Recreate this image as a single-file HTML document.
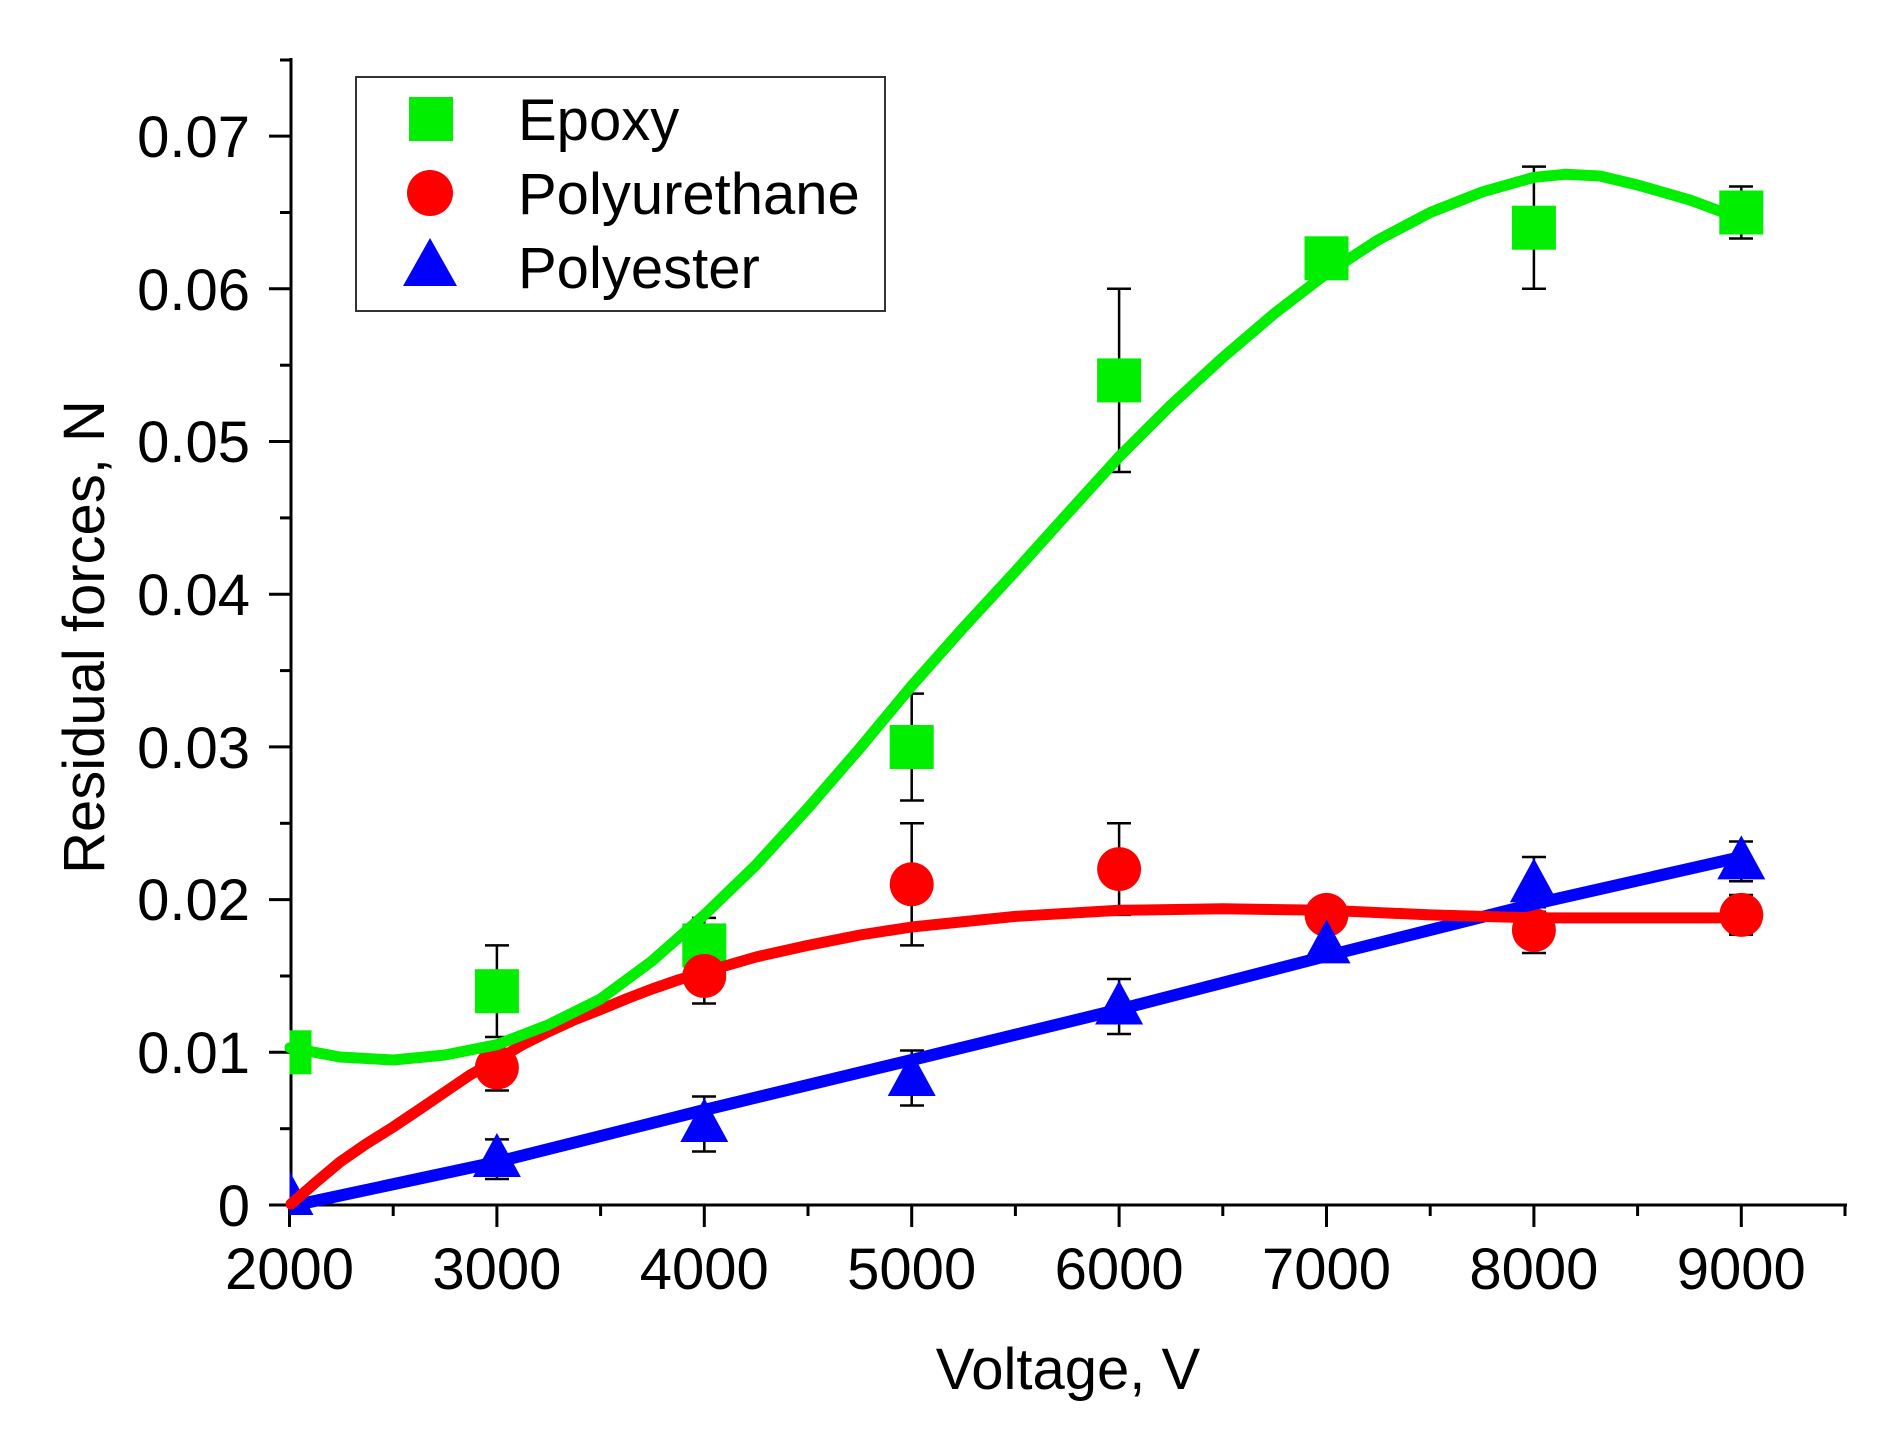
<!DOCTYPE html>
<html><head><meta charset="utf-8"><style>
html,body{margin:0;padding:0;background:#fff;}
svg{display:block;}
text{font-family:"Liberation Sans",Arial,sans-serif;fill:#000;}
</style></head><body>
<svg width="1892" height="1437" viewBox="0 0 1892 1437" xmlns="http://www.w3.org/2000/svg">
<rect width="1892" height="1437" fill="#fff"/>
<g stroke="#000" stroke-width="3" fill="none">
<line x1="291" y1="58" x2="291" y2="1206"/>
<line x1="289" y1="1205" x2="1847" y2="1205"/>
<line x1="269" y1="1205" x2="291" y2="1205"/>
<line x1="269" y1="1052.3" x2="291" y2="1052.3"/>
<line x1="269" y1="899.6" x2="291" y2="899.6"/>
<line x1="269" y1="746.9" x2="291" y2="746.9"/>
<line x1="269" y1="594.2" x2="291" y2="594.2"/>
<line x1="269" y1="441.5" x2="291" y2="441.5"/>
<line x1="269" y1="288.8" x2="291" y2="288.8"/>
<line x1="269" y1="136.1" x2="291" y2="136.1"/>
<line x1="280" y1="1128.7" x2="291" y2="1128.7"/>
<line x1="280" y1="976" x2="291" y2="976"/>
<line x1="280" y1="823.3" x2="291" y2="823.3"/>
<line x1="280" y1="670.6" x2="291" y2="670.6"/>
<line x1="280" y1="517.9" x2="291" y2="517.9"/>
<line x1="280" y1="365.2" x2="291" y2="365.2"/>
<line x1="280" y1="212.5" x2="291" y2="212.5"/>
<line x1="280" y1="60" x2="291" y2="60"/>
<line x1="289.5" y1="1205" x2="289.5" y2="1227"/>
<line x1="496.9" y1="1205" x2="496.9" y2="1227"/>
<line x1="704.3" y1="1205" x2="704.3" y2="1227"/>
<line x1="911.7" y1="1205" x2="911.7" y2="1227"/>
<line x1="1119.1" y1="1205" x2="1119.1" y2="1227"/>
<line x1="1326.5" y1="1205" x2="1326.5" y2="1227"/>
<line x1="1533.9" y1="1205" x2="1533.9" y2="1227"/>
<line x1="1741.3" y1="1205" x2="1741.3" y2="1227"/>
<line x1="393.2" y1="1205" x2="393.2" y2="1216"/>
<line x1="600.6" y1="1205" x2="600.6" y2="1216"/>
<line x1="808" y1="1205" x2="808" y2="1216"/>
<line x1="1015.4" y1="1205" x2="1015.4" y2="1216"/>
<line x1="1222.8" y1="1205" x2="1222.8" y2="1216"/>
<line x1="1430.2" y1="1205" x2="1430.2" y2="1216"/>
<line x1="1637.6" y1="1205" x2="1637.6" y2="1216"/>
<line x1="1845" y1="1205" x2="1845" y2="1216"/>
</g>
<g font-size="58" text-anchor="end">
<text x="250" y="1226">0</text>
<text x="250" y="1073">0.01</text>
<text x="250" y="920">0.02</text>
<text x="250" y="768">0.03</text>
<text x="250" y="615">0.04</text>
<text x="250" y="462">0.05</text>
<text x="250" y="310">0.06</text>
<text x="250" y="157">0.07</text>
</g>
<g font-size="58" text-anchor="middle">
<text x="289.5" y="1289">2000</text>
<text x="496.9" y="1289">3000</text>
<text x="704.3" y="1289">4000</text>
<text x="911.7" y="1289">5000</text>
<text x="1119.1" y="1289">6000</text>
<text x="1326.5" y="1289">7000</text>
<text x="1533.9" y="1289">8000</text>
<text x="1741.3" y="1289">9000</text>
<text x="1068" y="1389">Voltage, V</text>
<text transform="translate(104,637) rotate(-90)">Residual forces, N</text>
</g>
<g stroke="#000" stroke-width="2.5" fill="none">
<path d="M496.9 945.4V1037M485 945.4h24M485 1037h24"/>
<path d="M704.3 917.9V972.9M692 917.9h24M692 972.9h24"/>
<path d="M911.7 693.6V800.5M900 693.6h24M900 800.5h24"/>
<path d="M1119.1 288.8V472M1107 288.8h24M1107 472h24"/>
<path d="M1326.5 240V276.6M1314 240h24M1314 276.6h24"/>
<path d="M1533.9 166.6V288.8M1522 166.6h24M1522 288.8h24"/>
<path d="M1741.3 186.5V238.5M1729 186.5h24M1729 238.5h24"/>
<path d="M496.9 1044.7V1090.5M485 1044.7h24M485 1090.5h24"/>
<path d="M704.3 948.5V1003.5M692 948.5h24M692 1003.5h24"/>
<path d="M911.7 823.2V945.4M900 823.2h24M900 945.4h24"/>
<path d="M1119.1 823.3V914.9M1107 823.3h24M1107 914.9h24"/>
<path d="M1326.5 899.6V930.2M1314 899.6h24M1314 930.2h24"/>
<path d="M1533.9 907.2V953M1522 907.2h24M1522 953h24"/>
<path d="M1741.3 895V934.8M1729 895h24M1729 934.8h24"/>
<path d="M496.9 1139.4V1179M485 1139.4h24M485 1179h24"/>
<path d="M704.3 1096.5V1151.5M692 1096.5h24M692 1151.5h24"/>
<path d="M911.7 1050.5V1105.5M900 1050.5h24M900 1105.5h24"/>
<path d="M1119.1 979V1034M1107 979h24M1107 1034h24"/>
<path d="M1326.5 930V960.7M1314 930h24M1314 960.7h24"/>
<path d="M1533.9 857V911.8M1522 857h24M1522 911.8h24"/>
<path d="M1741.3 841.5V881.3M1729 841.5h24M1729 881.3h24"/>
</g>
<g fill="#00ee00">
<rect x="289.5" y="1030.3" width="22" height="44"/>
<rect x="474.9" y="969.2" width="44" height="44"/>
<rect x="682.3" y="923.4" width="44" height="44"/>
<rect x="889.7" y="725" width="44" height="44"/>
<rect x="1097.1" y="358.4" width="44" height="44"/>
<rect x="1304.5" y="236.3" width="44" height="44"/>
<rect x="1511.9" y="205.7" width="44" height="44"/>
<rect x="1719.3" y="190.5" width="44" height="44"/>
</g>
<g fill="#ff0000">
<circle cx="496.9" cy="1067.6" r="22"/>
<circle cx="704.3" cy="976" r="22"/>
<circle cx="911.7" cy="884.3" r="22"/>
<circle cx="1119.1" cy="869.1" r="22"/>
<circle cx="1326.5" cy="914.9" r="22"/>
<circle cx="1533.9" cy="930.1" r="22"/>
<circle cx="1741.3" cy="914.9" r="22"/>
</g>
<g fill="#0000ff">
<polygon points="289.5,1171 289.5,1215 313.5,1215"/>
<polygon points="496.9,1133 472.9,1177 520.9,1177"/>
<polygon points="704.3,1098 680.3,1142 728.3,1142"/>
<polygon points="911.7,1052 887.7,1096 935.7,1096"/>
<polygon points="1119.1,980.5 1095.1,1024.5 1143.1,1024.5"/>
<polygon points="1326.5,919.4 1302.5,963.4 1350.5,963.4"/>
<polygon points="1533.9,858.3 1509.9,902.3 1557.9,902.3"/>
<polygon points="1741.3,835.4 1717.3,879.4 1765.3,879.4"/>
</g>
<g fill="none" stroke-width="11" stroke-linejoin="round" stroke-linecap="round">
<polyline stroke="#0000ff" stroke-width="12" stroke-linecap="butt" points="296,1205 496.9,1162 704.3,1110 911.7,1060 1119.1,1009.5 1326.5,956 1533.9,904 1741.3,857"/>
<polyline stroke="#ff0000" points="291,1204 315,1183 340,1162 366,1144 393.2,1127 420,1109 445,1092 470,1075 496.9,1060 522,1045 548,1032 574,1020 600.6,1009.5 626,999 652,989 678,980 704.3,972 756,957 808,945.4 860,935 911.7,927 1015.4,916.4 1119.1,910.3 1222.8,908.8 1326.5,910.3 1430.2,914.9 1533.9,917.9 1637.6,917.9 1741.3,917.9"/>
<polyline stroke="#00ee00" points="290,1047.7 340,1057 393.2,1060 445,1055 496.9,1044.7 548,1025 600.6,998.9 652,961 704.3,914.9 756,865 808,808 860,748 911.7,685.8 963,628 1015.4,571.3 1067,514 1119.1,456.8 1171,405 1222.8,357.5 1275,313 1326.5,273.5 1378,240 1430.2,212.5 1482,192 1533.9,177.3 1565,174.3 1600,176 1637.6,185 1690,200 1741.3,219"/>
</g>
<rect x="356" y="77" width="529" height="234" fill="#fff" stroke="#333" stroke-width="2"/>
<rect x="409" y="97" width="44" height="44" fill="#00ee00"/>
<circle cx="430" cy="193" r="23" fill="#ff0000"/>
<polygon points="430,238 403,286 457,286" fill="#0000ff"/>
<g font-size="58">
<text x="518" y="140">Epoxy</text>
<text x="518" y="214">Polyurethane</text>
<text x="518" y="288">Polyester</text>
</g>
</svg>
</body></html>
